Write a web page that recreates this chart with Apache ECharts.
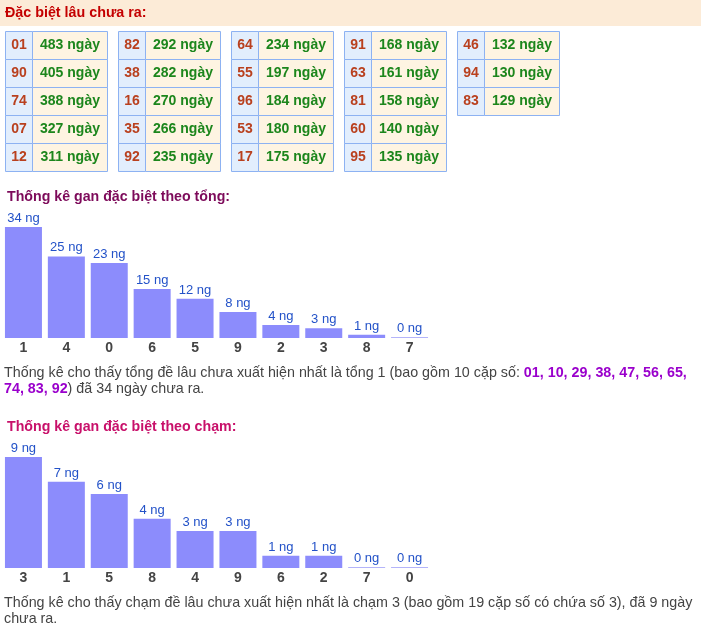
<!DOCTYPE html>
<html>
<head>
<meta charset="utf-8">
<script src="https://cdn.jsdelivr.net/npm/echarts@6/dist/echarts.min.js"></script>
<style>
html,body{margin:0;padding:0;background:#fff;}
#c{width:701px;height:635px;}
</style>
</head>
<body>
<div id="c"></div>
<script>
// ---- data ----
const headerTitle = 'Đặc biệt lâu chưa ra:';
const gapNumbers = ['01','90','74','07','12','82','38','16','35','92','64','55','96','53','17','91','63','81','60','95','46','94','83'];
const gapDays = [483,405,388,327,311,292,282,270,266,235,234,197,184,180,175,168,161,158,140,135,132,130,129];
const rowsPerTable = 5;

const sumTitle = 'Thống kê gan đặc biệt theo tổng:';
const sumCategories = ['1','4','0','6','5','9','2','3','8','7'];
const sumValues = [34,25,23,15,12,8,4,3,1,0];
const sumText = 'Thống kê cho thấy tổng đề lâu chưa xuất hiện nhất là tổng 1 (bao gồm 10 cặp số: {b|01, 10, 29, 38, 47, 56, 65,}\n{b|74, 83, 92}) đã 34 ngày chưa ra.';

const touchTitle = 'Thống kê gan đặc biệt theo chạm:';
const touchCategories = ['3','1','5','8','4','9','6','2','7','0'];
const touchValues = [9,7,6,4,3,3,1,1,0,0];
const touchText = 'Thống kê cho thấy chạm đề lâu chưa xuất hiện nhất là chạm 3 (bao gồm 19 cặp số có chứa số 3), đã 9 ngày\nchưa ra.';

const unit = ' ng';
const dayUnit = ' ngày';

// ---- build ----
const FONT = 'Arial, "Liberation Sans", sans-serif';
const tableData = gapNumbers.map((n, i) => [Math.floor(i / rowsPerTable), i % rowsPerTable, n, gapDays[i]]);

const chart = echarts.init(document.getElementById('c'), null, {renderer: 'canvas'});

function barSeries(xi, values) {
  return {
    type: 'bar',
    xAxisIndex: xi, yAxisIndex: xi,
    data: values,
    barWidth: 37,
    barMinHeight: 1,
    itemStyle: {color: p => p.value === 0 ? '#b4b4fa' : '#8c8cfc'},
    label: {
      show: true, position: 'top', distance: 2,
      formatter: p => p.value + unit,
      color: '#2352c8', fontSize: 13, fontFamily: FONT
    },
    animation: false,
    silent: true
  };
}

function catAxis(gi, cats) {
  return {
    type: 'category', gridIndex: gi, data: cats,
    axisLine: {show: false}, axisTick: {show: false},
    axisLabel: {margin: 3, color: '#444', fontSize: 14, fontWeight: 'bold', fontFamily: FONT}
  };
}

const option = {
  animation: false,
  textStyle: {fontFamily: FONT},
  graphic: [
    {type: 'rect', left: 0, top: 0, shape: {width: 701, height: 26}, style: {fill: '#fcebd7'}, silent: true},
    {type: 'text', left: 5, top: 6, style: {text: headerTitle, fill: '#c40000', font: 'bold 14.3px ' + FONT}},
    {type: 'text', left: 7, top: 190, style: {text: sumTitle, fill: '#7d0a5a', font: 'bold 14.2px ' + FONT}},
    {type: 'text', left: 4, top: 365, style: {
      text: sumText, fill: '#444', font: '14.3px ' + FONT, lineHeight: 16,
      rich: {b: {fill: '#9a00cc', font: 'bold 14.3px ' + FONT, lineHeight: 16}}
    }},
    {type: 'text', left: 7, top: 420, style: {text: touchTitle, fill: '#c8106a', font: 'bold 14.2px ' + FONT}},
    {type: 'text', left: 4, top: 595, style: {text: touchText, fill: '#444', font: '14.3px ' + FONT, lineHeight: 16}}
  ],
  grid: [
    {left: 5, top: 31, width: 565, height: 140},
    {left: 2, top: 227, width: 429, height: 111},
    {left: 2, top: 457, width: 429, height: 111}
  ],
  xAxis: [
    {type: 'value', gridIndex: 0, min: 0, max: 5, show: false},
    catAxis(1, sumCategories),
    catAxis(2, touchCategories)
  ],
  yAxis: [
    {type: 'value', gridIndex: 0, min: 0, max: 5, inverse: true, show: false},
    {type: 'value', gridIndex: 1, min: 0, max: 34, show: false},
    {type: 'value', gridIndex: 2, min: 0, max: 9, show: false}
  ],
  series: [
    {
      type: 'custom',
      xAxisIndex: 0, yAxisIndex: 0,
      data: tableData,
      silent: true,
      renderItem: function (params, api) {
        const p = api.coord([api.value(0), api.value(1)]);
        const s = api.size([1, 1]);
        const w1 = 27, w2 = 75, h = s[1];
        const x = Math.round(p[0]) + 0.5, y = Math.round(p[1]) + 0.5;
        const idx = params.dataIndex;
        const num = tableData[idx][2];
        const days = tableData[idx][3];
        return {
          type: 'group',
          children: [
            {type: 'rect', shape: {x: x, y: y, width: w1, height: h}, style: {fill: '#e2eefd', stroke: '#8db2f2', lineWidth: 1}},
            {type: 'rect', shape: {x: x + w1, y: y, width: w2, height: h}, style: {fill: '#fef4e2', stroke: '#8db2f2', lineWidth: 1}},
            {type: 'text', style: {x: x + w1 / 2, y: y + h / 2, text: num, fill: '#b9401e', font: 'bold 14px ' + FONT, align: 'center', verticalAlign: 'middle'}},
            {type: 'text', style: {x: x + w1 + w2 / 2, y: y + h / 2, text: days + dayUnit, fill: '#1c861c', font: 'bold 14px ' + FONT, align: 'center', verticalAlign: 'middle'}}
          ]
        };
      }
    },
    barSeries(1, sumValues),
    barSeries(2, touchValues)
  ]
};
chart.setOption(option);
</script>
</body>
</html>
